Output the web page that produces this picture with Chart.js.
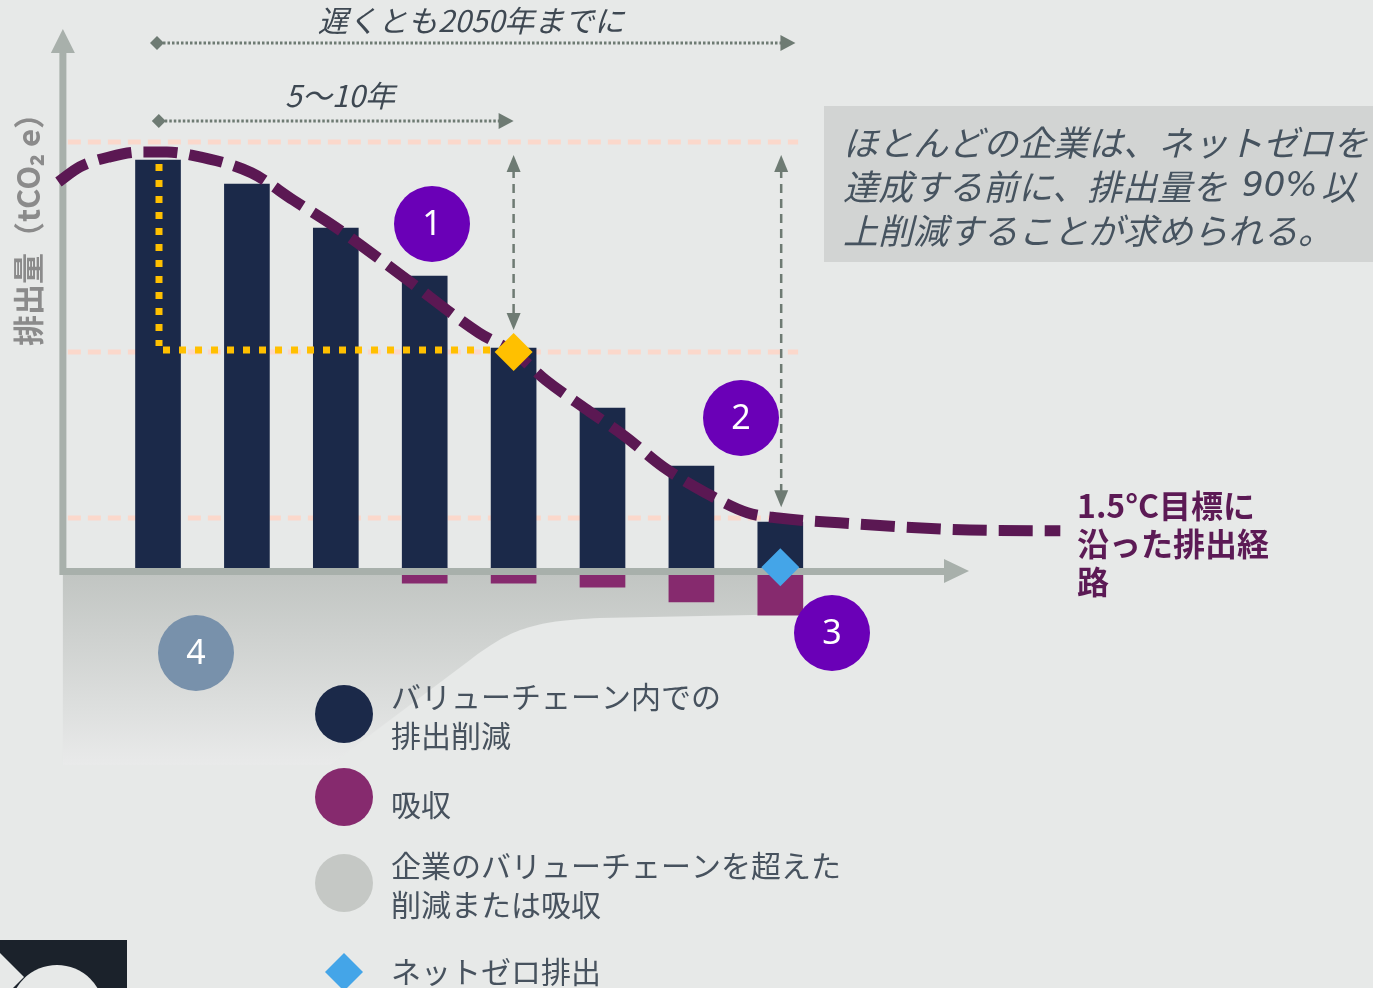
<!DOCTYPE html>
<html lang="ja">
<head>
<meta charset="utf-8">
<title>ネットゼロへの排出経路</title>
<script src="https://cdn.jsdelivr.net/npm/chart.js@4.4.1/dist/chart.umd.min.js"></script>
<style>
  html, body { margin: 0; padding: 0; background: #e7e9e8; overflow: hidden; }
  #wrap { width: 1373px; height: 988px; }
</style>
</head>
<body>
<div id="wrap"><canvas id="netzero" width="1373" height="988"></canvas></div>
<script>
// データ（排出量の相対値、1本目 ≒ 102）
var steps = ['1', '2', '3', '4', '5', '6', '7', '8'];
var valueChainCuts = [102, 96, 85, 73, 55, 40, 25.5, 11.5];
var removals = [null, null, null, -3.8, -3.8, -4.8, -8.5, -11.8];

// 1.5°C 目標に沿った排出経路（読み取り値）
var pathX = [-1.12, -0.88, -0.54, -0.2, 0.1, 0.36, 1.05, 1.52, 1.99, 2.76, 3.61, 4.01, 4.36, 4.83, 5.26, 5.68, 6.16, 6.63, 6.98, 7.66, 9.13, 10.15];
var pathY = [96.5, 100.3, 102.8, 104, 104, 103.3, 98.8, 92, 85.3, 72.8, 58.8, 53.8, 47, 39.5, 32.8, 25.3, 18.8, 13.8, 12.5, 11.3, 9.5, 9.3];

// 点線の基準レベル
var refLevels = [106.5, 54, 12.5];

var FONT = '"Noto Sans CJK JP", "Noto Sans", sans-serif';

function tri(ctx, pts, color) {
    ctx.fillStyle = color;
    ctx.beginPath();
    ctx.moveTo(pts[0], pts[1]);
    ctx.lineTo(pts[2], pts[3]);
    ctx.lineTo(pts[4], pts[5]);
    ctx.closePath();
    ctx.fill();
}

function diamond(ctx, x, y, r, color) {
    ctx.fillStyle = color;
    ctx.beginPath();
    ctx.moveTo(x, y - r);
    ctx.lineTo(x + r, y);
    ctx.lineTo(x, y + r);
    ctx.lineTo(x - r, y);
    ctx.closePath();
    ctx.fill();
}

function circle(ctx, x, y, r, color, label) {
    ctx.fillStyle = color;
    ctx.beginPath();
    ctx.arc(x, y, r, 0, Math.PI * 2);
    ctx.fill();
    if (label) {
        ctx.fillStyle = '#ffffff';
        ctx.font = '34px "Noto Sans", sans-serif';
        ctx.textAlign = 'center';
        ctx.textBaseline = 'middle';
        ctx.fillText(label, x, y + 1);
    }
}

var overlay = {
    id: 'overlay',
    beforeDatasetsDraw: function(chart) {
        var ctx = chart.ctx;
        var sx = chart.scales.x, sy = chart.scales.y;
        var x0 = sx.getPixelForValue(-1.07);
        var y0 = sy.getPixelForValue(0);
        ctx.save();

        // バリューチェーンを超えた領域（グラデーション）
        var g = ctx.createLinearGradient(0, y0, 0, 770);
        g.addColorStop(0, 'rgba(192,196,193,1)');
        g.addColorStop(1, 'rgba(234,235,235,1)');
        ctx.fillStyle = g;
        ctx.beginPath();
        ctx.moveTo(x0, y0);
        ctx.lineTo(sx.getPixelForValue(7.26), y0);
        ctx.lineTo(sx.getPixelForValue(7.26), 614);
        ctx.lineTo(600, 618);
        ctx.bezierCurveTo(530, 621, 510, 630, 470, 660);
        ctx.lineTo(330, 765);
        ctx.lineTo(x0, 765);
        ctx.closePath();
        ctx.fill();

        // 基準レベルの破線
        ctx.strokeStyle = '#fbd8cb';
        ctx.lineWidth = 5;
        ctx.setLineDash([13, 7]);
        refLevels.forEach(function(v) {
            var y = sy.getPixelForValue(v);
            ctx.beginPath();
            ctx.moveTo(x0 + 5, y);
            ctx.lineTo(sx.getPixelForValue(7.2), y);
            ctx.stroke();
        });
        ctx.restore();
    },
    afterDatasetDraw: function(chart, args) {
        if (args.index !== 0) return;
        var ctx = chart.ctx;
        var sx = chart.scales.x, sy = chart.scales.y;
        var x0 = sx.getPixelForValue(-1.07);
        var y0 = sy.getPixelForValue(0);
        var axisColor = '#a8b0ab';
        ctx.save();
        ctx.strokeStyle = axisColor;
        ctx.lineWidth = 7;
        ctx.beginPath();
        ctx.moveTo(x0, 50);
        ctx.lineTo(x0, y0 + 3.5);
        ctx.lineTo(945, y0 + 3.5);
        ctx.stroke();
        tri(ctx, [x0, 29, x0 - 12, 53, x0 + 12, 53], axisColor);
        tri(ctx, [969, y0 + 3, 944, y0 - 9, 944, y0 + 15], axisColor);
        ctx.restore();
    },
    afterDatasetsDraw: function(chart) {
        var ctx = chart.ctx;
        var sx = chart.scales.x, sy = chart.scales.y;
        var grey = '#6e7b73';
        ctx.save();

        // 黄色の点線（1本目 → 中間目標）
        var yx = sx.getPixelForValue(0) + 1;
        var yTop = sy.getPixelForValue(101);
        var yMid = sy.getPixelForValue(54.5);
        ctx.strokeStyle = '#ffc000';
        ctx.lineWidth = 7;
        ctx.setLineDash([7, 9]);
        ctx.beginPath();
        ctx.moveTo(yx, yTop);
        ctx.lineTo(yx, yMid - 4);
        ctx.stroke();
        ctx.beginPath();
        ctx.moveTo(yx + 4, yMid);
        ctx.lineTo(sx.getPixelForValue(4), yMid);
        ctx.stroke();
        ctx.setLineDash([]);

        // 縦の破線矢印
        ctx.strokeStyle = grey;
        ctx.lineWidth = 2.5;
        [[4, 59.5], [7.01, 15.2]].forEach(function(a) {
            var x = sx.getPixelForValue(a[0]);
            var top = 155, bot = sy.getPixelForValue(a[1]);
            ctx.setLineDash([9, 6]);
            ctx.beginPath();
            ctx.moveTo(x, top + 14);
            ctx.lineTo(x, bot - 14);
            ctx.stroke();
            ctx.setLineDash([]);
            tri(ctx, [x, top, x - 7, top + 17, x + 7, top + 17], grey);
            tri(ctx, [x, bot, x - 7, bot - 17, x + 7, bot - 17], grey);
        });

        // 上部の期間矢印
        ctx.lineWidth = 3;
        [[43, 0, 7.17], [121, 0.02, 4.0]].forEach(function(a) {
            var y = a[0], xs = sx.getPixelForValue(a[1]) - 1, xe = sx.getPixelForValue(a[2]);
            ctx.setLineDash([2.5, 2]);
            ctx.beginPath();
            ctx.moveTo(xs + 6, y);
            ctx.lineTo(xe - 14, y);
            ctx.stroke();
            ctx.setLineDash([]);
            diamond(ctx, xs, y, 7, grey);
            tri(ctx, [xe, y, xe - 15, y - 8, xe - 15, y + 8], grey);
        });

        // ダイヤモンド
        diamond(ctx, sx.getPixelForValue(4), sy.getPixelForValue(54), 19, '#ffc000');
        diamond(ctx, sx.getPixelForValue(7), sy.getPixelForValue(0.2), 19, '#44a5e8');

        // 番号の丸
        circle(ctx, 432, 224, 38, '#6a00b7', '1');
        circle(ctx, 741, 418, 38, '#6a00b7', '2');
        circle(ctx, 832, 633, 38, '#6a00b7', '3');
        circle(ctx, 196, 653, 38, '#7891ab', '4');
        ctx.restore();
    },
    afterDraw: function(chart) {
        var ctx = chart.ctx;
        ctx.save();

        // 上部のテキスト
        ctx.fillStyle = '#3e4852';
        ctx.font = 'italic 30px ' + FONT;
        ctx.textAlign = 'center';
        ctx.textBaseline = 'middle';
        ctx.fillText('遅くとも2050年までに', 471, 21);
        ctx.fillText('5〜10年', 340, 96);

        // 縦軸ラベル
        ctx.save();
        ctx.translate(28, 222);
        ctx.rotate(-Math.PI / 2);
        ctx.fillStyle = '#8b8b8b';
        ctx.font = 'bold 31px ' + FONT;
        ctx.fillText('排出量（tCO₂ e）', 0, 0);
        ctx.restore();

        // 右上の説明ボックス
        ctx.fillStyle = '#d2d4d3';
        ctx.fillRect(824, 106, 549, 156);
        ctx.fillStyle = '#46535f';
        ctx.font = 'italic 35px ' + FONT;
        ctx.textAlign = 'left';
        ctx.fillText('ほとんどの企業は、ネットゼロを', 843, 143);
        ctx.fillText('達成する前に、排出量を', 843, 187);
        ctx.font = 'italic 34px "DejaVu Sans", sans-serif';
        ctx.fillText('90%', 1242, 187);
        ctx.font = 'italic 35px ' + FONT;
        ctx.fillText('以', 1321, 187);
        ctx.fillText('上削減することが求められる。', 843, 231);

        // 経路ラベル
        ctx.fillStyle = '#5c1a55';
        ctx.font = '600 32px ' + FONT;
        ['1.5°C目標に', '沿った排出経', '路'].forEach(function(t, i) {
            ctx.fillText(t, 1077, 506 + i * 38);
        });

        // 凡例
        circle(ctx, 344, 714, 29, '#1b2949');
        circle(ctx, 344, 797, 29, '#862a6e');
        circle(ctx, 344, 883, 29, '#c5c8c5');
        diamond(ctx, 344, 972, 19, '#44a5e8');
        ctx.fillStyle = '#47525e';
        ctx.font = '30px ' + FONT;
        ctx.textAlign = 'left';
        ctx.textBaseline = 'middle';
        ctx.fillText('バリューチェーン内での', 391, 697);
        ctx.fillText('排出削減', 391, 736);
        ctx.fillText('吸収', 391, 805);
        ctx.fillText('企業のバリューチェーンを超えた', 391, 866);
        ctx.fillText('削減または吸収', 391, 905);
        ctx.fillText('ネットゼロ排出', 391, 972);

        // 左下のロゴ断片
        ctx.fillStyle = '#1b222b';
        ctx.fillRect(0, 940, 127, 48);
        ctx.fillStyle = '#e7e9e8';
        ctx.beginPath();
        ctx.arc(57, 1012, 47, 0, Math.PI * 2);
        ctx.fill();
        ctx.beginPath();
        ctx.moveTo(0, 953);
        ctx.lineTo(24, 977);
        ctx.lineTo(0, 1001);
        ctx.closePath();
        ctx.fill();
        ctx.restore();
    }
};

var ctx = document.getElementById('netzero');

var netZeroChart = new Chart(ctx, {
    type: 'bar',
    data: {
        datasets: [{
            label: 'バリューチェーン内での排出削減',
            data: steps.map(function(s, i) { return { x: i, y: valueChainCuts[i] }; }),
            backgroundColor: '#1b2949',
            barThickness: 45,
            grouped: false,
            order: 1
        }, {
            label: '吸収',
            data: steps.map(function(s, i) { return { x: i, y: removals[i] }; }),
            backgroundColor: '#862a6e',
            barThickness: 45,
            grouped: false,
            order: 2
        }, {
            type: 'line',
            label: '1.5°C目標に沿った排出経路',
            data: pathX.map(function(x, i) { return { x: x, y: pathY[i] }; }),
            borderColor: '#5b1853',
            borderWidth: 11,
            borderDash: [34, 12],
            borderCapStyle: 'butt',
            pointRadius: 0,
            fill: false,
            cubicInterpolationMode: 'monotone',
            clip: false,
            order: 0
        }]
    },
    options: {
        responsive: false,
        animation: false,
        layout: { padding: { left: 58, right: 310, top: 28, bottom: 360 } },
        scales: {
            x: { type: 'linear', min: -1.125, max: 10.18, offset: false, display: false },
            y: { type: 'linear', min: -15, max: 135, display: false }
        },
        plugins: {
            legend: { display: false },
            tooltip: { enabled: false }
        }
    },
    plugins: [overlay]
});
</script>
</body>
</html>
